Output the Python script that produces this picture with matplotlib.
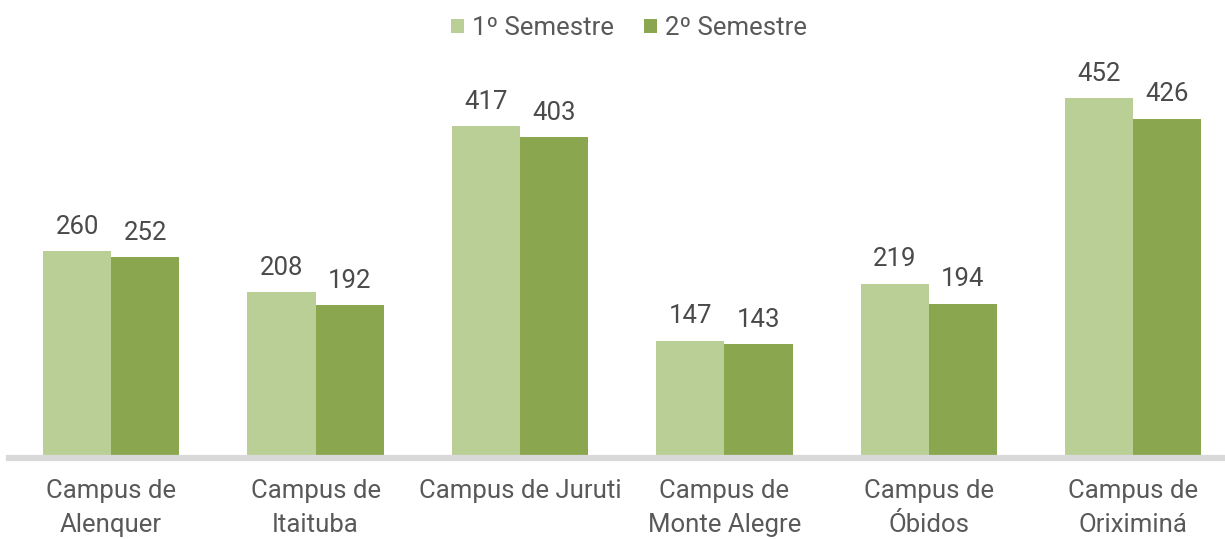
import matplotlib.pyplot as plt
import numpy as np

campi = ['Campus de\nAlenquer', 'Campus de\nItaituba', 'Campus de Juruti',
         'Campus de\nMonte Alegre', 'Campus de\nÓbidos', 'Campus de\nOriximiná']
sem1 = [260, 208, 417, 147, 219, 452]
sem2 = [252, 192, 403, 143, 194, 426]
series = ['1º Semestre', '2º Semestre']

LIGHT = '#B9CF96'
DARK = '#8AA64E'
TXT = '#595959'
FS = 18.5

plt.rcParams['font.family'] = ['Roboto', 'DejaVu Sans']

fig = plt.figure(figsize=(12.25, 5.39), dpi=100)
# axes placed in pixels: x 9..1225, y 60..458
ax = fig.add_axes([9 / 1225, 1 - 458 / 539, 1216 / 1225, 398 / 539])

x = np.arange(len(campi))
w = 1 / 3
b1 = ax.bar(x - w / 2, sem1, w, color=LIGHT, label=series[0])
b2 = ax.bar(x + w / 2, sem2, w, color=DARK, label=series[1])

for bars, vals in ((b1, sem1), (b2, sem2)):
    for bar, v in zip(bars, vals):
        ax.annotate(str(v), (bar.get_x() + bar.get_width() / 2, v),
                    xytext=(0, 9), textcoords='offset points',
                    ha='center', va='bottom', fontsize=FS, color='#4a4a4a')

ax.set_xlim(-0.5, -0.5 + 1216 / 204.4)
ax.set_ylim(0, 500)
ax.set_xticks(x)
ax.set_xticklabels(campi, fontsize=FS, color=TXT, linespacing=1.55, va='top')
ax.tick_params(axis='x', length=0, pad=15)
ax.set_yticks([])
for s in ['top', 'right', 'left']:
    ax.spines[s].set_visible(False)
ax.spines['bottom'].set_color('#D9D9D9')
ax.spines['bottom'].set_linewidth(4.5)
ax.spines['bottom'].set_zorder(3)

fig.legend(loc='center', bbox_to_anchor=(629 / 1225, 1 - 28 / 539),
           ncol=2, frameon=False, fontsize=FS, handlelength=0.5, handleheight=0.5,
           handletextpad=0.3, columnspacing=1.2, labelcolor=TXT,
           borderpad=0, borderaxespad=0)

plt.savefig('out.png', dpi=100)
